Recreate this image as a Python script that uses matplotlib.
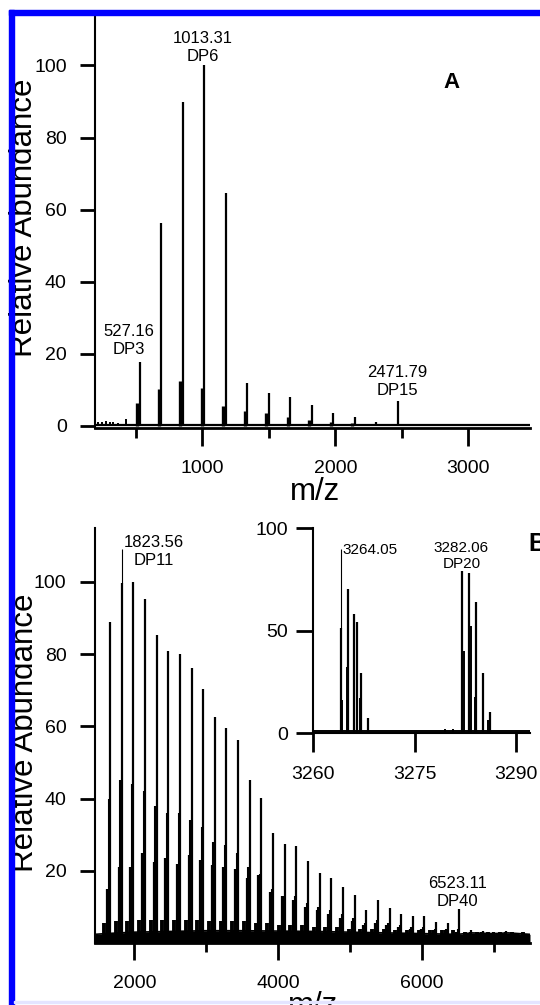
import matplotlib.pyplot as plt
from matplotlib.patches import Rectangle

plt.rcParams['font.family'] = ['Liberation Sans', 'DejaVu Sans']

# Panel A: DP3..DP16 peaks (m/z, relative abundance)
a_mz = [527.16, 689.2, 851.3, 1013.31, 1175.4, 1337.4, 1499.5, 1661.5, 1823.6,
        1985.6, 2147.7, 2309.7, 2471.79, 2633.8]
a_int = [17.7, 56.3, 89.9, 100, 64.7, 12.0, 9.2, 8.1, 5.8, 3.7, 2.5, 1.2, 7.0, 0.5]
# water-loss satellites
a_sat_mz = [509, 671, 833, 995, 1157, 1319, 1481, 1643, 1805, 1967, 2129]
a_sat_int = [6.3, 10.2, 12.5, 10.5, 5.4, 4.2, 3.5, 2.5, 1.7, 1.2, 0.8]
# small low-mass bumps
a_noise_mz = [215, 240, 270, 300, 330, 365, 425]
a_noise_int = [1.2, 1.0, 1.3, 1.0, 1.2, 0.8, 1.8]

# Panel B: DP10..DP46
b_mz = [1661.5, 1823.56, 1985.6, 2147.7, 2309.7, 2471.8, 2633.8, 2795.9, 2957.9,
        3120.0, 3282.06, 3444.1, 3606.1, 3768.2, 3930.2, 4092.3, 4254.3, 4416.4,
        4578.4, 4740.5, 4902.5, 5064.6, 5226.6, 5388.7, 5550.7, 5712.8, 5874.8,
        6036.9, 6198.9, 6361.0, 6523.11, 6685.1, 6847.2, 7009.2, 7171.3, 7333.3,
        7495.4]
b_int = [88.8, 99.8, 100, 95.2, 85.2, 80.8, 80.0, 76.2, 70.4, 62.5, 59.4, 56.1,
         45.2, 40.1, 30.5, 27.3, 26.8, 22.7, 19.5, 18.0, 15.4, 13.3, 9.1, 11.9,
         9.6, 8.0, 7.5, 7.5, 5.7, 5.4, 9.3, 3.6, 3.2, 3.0, 3.2, 2.8, 2.6]
# companion peaks just below each main peak (-18)
b_comp_mz = [1643, 1805, 1967, 2129, 2291, 2453, 2615, 2777, 2939, 3101, 3264.05,
             3426, 3588, 3750, 3912, 4074, 4236, 4398, 4560, 4722, 4884, 5046, 5208,
             5370, 5532, 5694, 5856, 6018, 6180, 6342, 6505, 6667, 6829, 6991, 7153,
             7315, 7477]
b_comp_int = [40, 45, 44, 42, 38, 36, 36, 34, 32, 28, 27, 25, 21, 19, 15, 13, 13,
              11, 10, 9, 8, 7, 5.5, 6.5, 5.5, 5, 4.5, 4.5, 4, 4, 4, 3, 3, 3, 3,
              2.8, 2.6]
b_sat_mz = [1620, 1782, 1944, 2106, 2268, 2430, 2592, 2754, 2916, 3078, 3240, 3402,
            3564, 3726, 3888, 4050, 4212, 4374, 4536, 4698, 4860, 5022, 5184, 5346,
            5508, 5670, 5832, 5994, 6156, 6318, 6480, 6642, 6804, 6966, 7128, 7290,
            7452]
b_sat_int = [15, 21, 21, 24.8, 22.5, 23.5, 22, 24.3, 23, 21.5, 21, 20.6, 17.9, 18.8,
             14, 13, 12, 10, 9, 8, 7, 6, 5, 5.5, 5, 4.5, 4, 4, 3.5, 3.5, 3, 2.8,
             2.8, 2.6, 2.6, 2.5, 2.5]
b_hump_mz = [1580, 1742, 1904, 2066, 2228, 2390, 2552, 2714, 2876, 3038, 3200, 3362,
             3524, 3686, 3848, 4010, 4172, 4334, 4496, 4658, 4820, 4982, 5144, 5306,
             5468, 5630, 5792, 5954, 6116, 6278, 6440, 6602, 6764, 6926, 7088, 7250,
             7412]
b_hump_int = [5.5, 6, 6, 6.5, 6.5, 6.5, 6.5, 6.5, 6.5, 6, 6, 6, 6, 5.5, 5.5, 5, 5,
              5, 4.5, 4.5, 4.5, 4, 4, 4, 4, 3.5, 3.5, 3.5, 3.5, 3.5, 3.5, 3, 3, 3,
              3, 3, 3]
b_base_mz = [1453, 1600, 2000, 2500, 3000, 3500, 4000, 4500, 5000, 5500, 6000,
             6500, 6700, 7000, 7200, 7505]
b_base_int = [2.4, 2.6, 3.0, 3.2, 3.4, 3.4, 3.3, 3.2, 3.0, 2.8, 2.6, 2.4, 2.8,
              2.6, 2.8, 2.4]

# Inset: isotope clusters around DP20
in_mz = [3264.05, 3265.05, 3266.06, 3266.4, 3267.06, 3268.06,
         3282.06, 3283.06, 3284.07, 3285.07, 3286.07]
in_int = [51, 70.4, 57.9, 54.2, 29.4, 7.2, 78.9, 78.1, 63.9, 29.4, 10.4]
in_sub_mz = [3264.3, 3264.9, 3266.9, 3282.3, 3283.3, 3283.9, 3285.8, 3279.5, 3280.6]
in_sub_int = [16, 32, 17, 40, 52, 17.7, 6.5, 1.8, 2.0]

W, H = 540, 1005
fig = plt.figure(figsize=(W / 100, H / 100), dpi=100)


def px_axes(l, t, r, b):
    return fig.add_axes([l / W, 1 - b / H, (r - l) / W, (b - t) / H])


def style(ax, lw_left=1.5, lw_bottom=2.0):
    for s in ['top', 'right']:
        ax.spines[s].set_visible(False)
    ax.spines['left'].set_linewidth(lw_left)
    ax.spines['bottom'].set_linewidth(lw_bottom)
    ax.patch.set_alpha(0)


# ---- panel A
axA = px_axes(94.5, 15, 530, 428)
axA.set_xlim(187, 3466)
axA.set_ylim(-0.6, 114)
axA.plot([187, 3466], [0.3, 0.3], color='k', lw=1.6)
axA.vlines(a_noise_mz, 0, a_noise_int, color='k', lw=1.4)
axA.vlines(a_sat_mz, 0, a_sat_int, color='k', lw=2.4)
axA.vlines(a_mz, 0, a_int, color='k', lw=1.6)
style(axA)
axA.set_xticks([1000, 2000, 3000])
axA.set_xticks([500, 1500, 2500], minor=True)
axA.set_yticks([0, 20, 40, 60, 80, 100])
axA.tick_params(axis='y', length=11, width=2, pad=9, labelsize=14)
axA.tick_params(axis='x', which='major', length=13, width=2, pad=10, labelsize=14)
axA.tick_params(axis='x', which='minor', length=7, width=2)
axA.text(1004, 100.5, '1013.31\nDP6', ha='center', va='bottom', fontsize=12, linespacing=1.25)
axA.text(447, 19.2, '527.16\nDP3', ha='center', va='bottom', fontsize=12, linespacing=1.25)
axA.text(2469, 7.7, '2471.79\nDP15', ha='center', va='bottom', fontsize=12, linespacing=1.25)
fig.text(451 / W, 1 - 82 / H, 'A', ha='center', va='center', fontsize=16, fontweight='bold')
fig.text(315 / W, 1 - 500 / H, 'm/z', ha='center', va='baseline', fontsize=22.5)
fig.text(24 / W, 1 - 218 / H, 'Relative Abundance', rotation=90, ha='center', va='center',
         fontsize=22.5)

# ---- panel B
axB = px_axes(95, 528, 530, 943)
axB.set_xlim(1453, 7505)
axB.set_ylim(0, 114.9)
axB.fill_between(b_base_mz, 0, b_base_int, color='k', lw=0)
axB.plot(b_base_mz, b_base_int, color='k', lw=1.2)
axB.vlines(b_hump_mz, 0, b_hump_int, color='k', lw=2.8)
axB.vlines(b_sat_mz, 0, b_sat_int, color='k', lw=1.6)
axB.vlines(b_comp_mz, 0, b_comp_int, color='k', lw=1.5)
axB.vlines(b_mz, 0, b_int, color='k', lw=1.6)
axB.vlines(1823.56, 99.8, 109.2, color='k', lw=0.8)
style(axB)
axB.set_xticks([2000, 4000, 6000])
axB.set_xticks([3000, 5000, 7000], minor=True)
axB.set_yticks([20, 40, 60, 80, 100])
axB.tick_params(axis='y', length=11, width=2, pad=9.5, labelsize=14)
axB.tick_params(axis='x', which='major', length=12.5, width=2, pad=10.5, labelsize=14)
axB.tick_params(axis='x', which='minor', length=6.5, width=2)
axB.text(2278, 103.7, '1823.56\nDP11', ha='center', va='bottom', fontsize=12, linespacing=1.25)
axB.text(6502, 9.5, '6523.11\nDP40', ha='center', va='bottom', fontsize=12, linespacing=1.25)
fig.text(528 / W, 1 - 544 / H, 'B', ha='left', va='center', fontsize=18, fontweight='bold')
fig.text(313 / W, 1 - 1014 / H, 'm/z', ha='center', va='baseline', fontsize=22.5)
fig.text(25 / W, 1 - 733 / H, 'Relative Abundance', rotation=90, ha='center', va='center',
         fontsize=22.5)

# ---- inset
axI = px_axes(313.4, 528, 530.3, 733)
axI.set_xlim(3260, 3292.1)
axI.set_ylim(0, 100)
axI.plot([3260, 3292.1], [0.8, 0.8], color='k', lw=1.4)
axI.vlines(in_sub_mz, 0, in_sub_int, color='k', lw=1.4)
axI.vlines(in_mz, 0, in_int, color='k', lw=1.6)
axI.vlines(3264.05, 51, 90, color='k', lw=0.8)
style(axI, 1.5, 1.5)
axI.set_xticks([3260, 3275, 3290])
axI.set_yticks([0, 50, 100])
axI.tick_params(axis='y', length=12.5, width=2, pad=6, labelsize=14)
axI.tick_params(axis='x', length=14, width=2, pad=9.5, labelsize=14)
axI.text(3264.3, 87.5, '3264.05', ha='left', va='baseline', fontsize=11)
axI.text(3281.9, 79, '3282.06\nDP20', ha='center', va='bottom', fontsize=11, linespacing=1.2)

# blue frame
fig.add_artist(Rectangle((8.6 / W, 0), 5.2 / W, 1 - 10 / H, transform=fig.transFigure,
                         color='#0000ff', zorder=10))
fig.add_artist(Rectangle((8.6 / W, 1 - 15 / H), (W - 8.6) / W, 5 / H, transform=fig.transFigure,
                         color='#0000ff', zorder=10))
fig.add_artist(Rectangle((14 / W, 1 - 1002.5 / H), (W - 14) / W, 2 / H, transform=fig.transFigure,
                         color='#e4e4ff', zorder=10))

fig.savefig('out.png', dpi=100)
